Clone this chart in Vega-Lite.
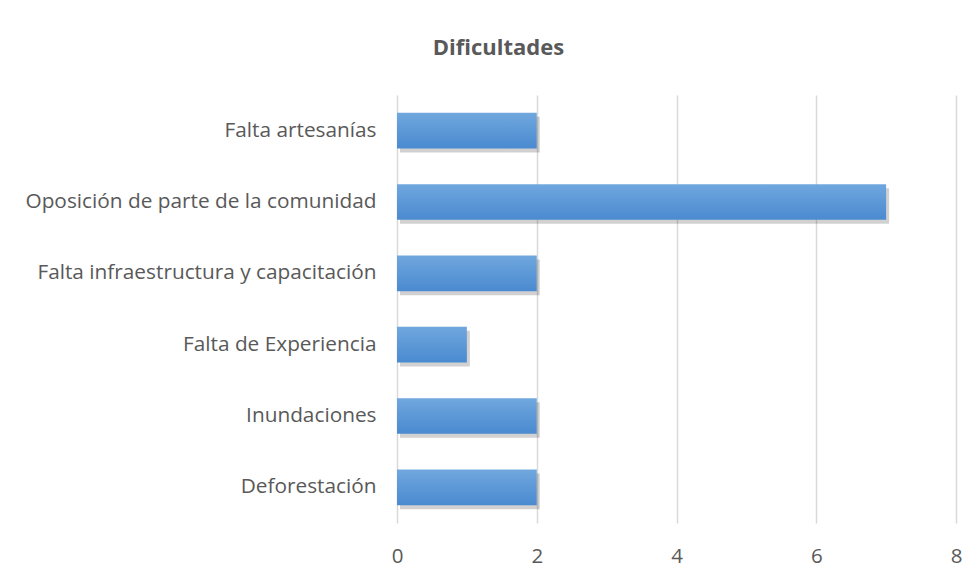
{
  "$schema": "https://vega.github.io/schema/vega-lite/v6.json",
  "autosize": {"type": "none"},
  "width": 559,
  "height": 428,
  "padding": {"left": 397, "top": 95, "right": 24, "bottom": 54},
  "background": "white",
  "title": {
    "text": "Dificultades",
    "anchor": "middle",
    "frame": "group",
    "dx": -178,
    "offset": 35,
    "font": "Open Sans",
    "fontSize": 22,
    "fontWeight": "bold",
    "color": "#595959"
  },
  "data": {
    "values": [
      {"dificultad": "Falta artesanías", "valor": 2},
      {"dificultad": "Oposición de parte de la comunidad", "valor": 7},
      {"dificultad": "Falta infraestructura y capacitación", "valor": 2},
      {"dificultad": "Falta de Experiencia", "valor": 1},
      {"dificultad": "Inundaciones", "valor": 2},
      {"dificultad": "Deforestación", "valor": 2}
    ]
  },
  "encoding": {
    "y": {
      "field": "dificultad",
      "type": "nominal",
      "sort": null,
      "scale": {"paddingInner": 0.5, "paddingOuter": 0.25},
      "axis": {
        "title": null,
        "domain": false,
        "ticks": false,
        "grid": false,
        "labelPadding": 21,
        "labelFont": "Open Sans",
        "labelFontSize": 20.8,
        "labelColor": "#595959",
        "labelLimit": 400
      }
    },
    "x": {
      "field": "valor",
      "type": "quantitative",
      "scale": {"domain": [0, 8]},
      "axis": {
        "title": null,
        "values": [0, 2, 4, 6, 8],
        "domain": false,
        "ticks": false,
        "grid": true,
        "gridColor": "#d9d9d9",
        "gridWidth": 1.5,
        "labelPadding": 23,
        "labelFont": "Open Sans",
        "labelFontSize": 20.5,
        "labelColor": "#595959",
        "labelFlush": false
      }
    }
  },
  "layer": [
    {
      "mark": {"type": "bar", "color": "#000000", "opacity": 0.18, "xOffset": 3, "yOffset": 4}
    },
    {
      "mark": {
        "type": "bar",
        "color": {
          "gradient": "linear",
          "x1": 0, "y1": 0, "x2": 0, "y2": 1,
          "stops": [
            {"offset": 0, "color": "#70a7de"},
            {"offset": 1, "color": "#4a8ad0"}
          ]
        }
      }
    }
  ],
  "config": {"view": {"stroke": null}}
}
